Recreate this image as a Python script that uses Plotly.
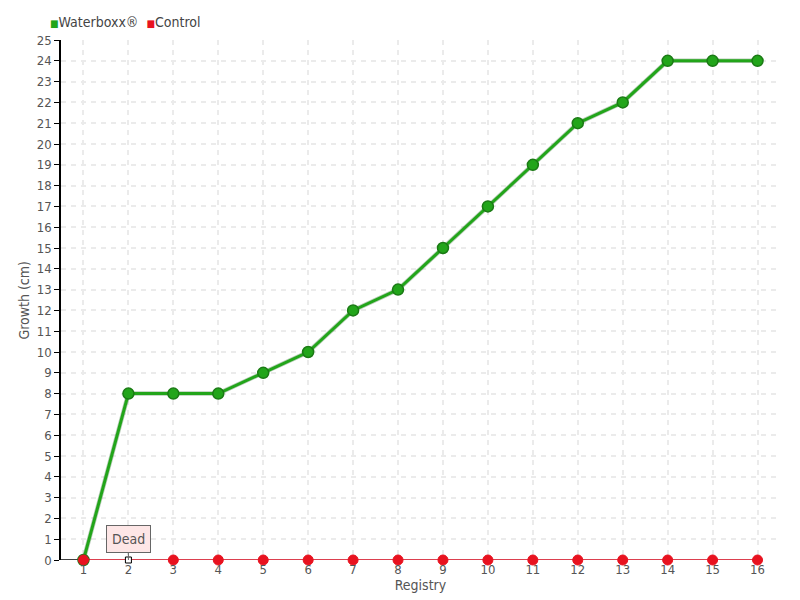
import plotly.graph_objects as go

registry = list(range(1, 17))
waterboxx = [0, 8, 8, 8, 9, 10, 12, 13, 15, 17, 19, 21, 22, 24, 24, 24]
control = [0] * 16
ytick_vals = list(range(0, 26))
x_range = [0.5, 16.5]

FONT = "DejaVu Sans Condensed, DejaVu Sans, sans-serif"
GREEN = "#22a51a"
RED = "#e8121f"

fig = go.Figure()
# subtle shadow for green line
fig.add_trace(go.Scatter(x=registry, y=waterboxx, mode="lines",
                         line=dict(color="rgba(20,90,20,0.3)", width=4.5),
                         showlegend=False, hoverinfo="skip", cliponaxis=False))
fig.add_trace(go.Scatter(x=registry, y=waterboxx, mode="lines+markers", name="Waterboxx®",
                         line=dict(color=GREEN, width=3), cliponaxis=False,
                         marker=dict(size=11, color=GREEN, line=dict(color="#1b7a15", width=1.5)),
                         showlegend=False))
ctrl_symbols = ["circle"] * 16
ctrl_symbols[1] = "square"
ctrl_colors = [RED] * 16
ctrl_colors[1] = "white"
ctrl_sizes = [10] * 16
ctrl_sizes[1] = 6
ctrl_line_colors = [RED] * 16
ctrl_line_colors[1] = "black"
fig.add_trace(go.Scatter(x=registry, y=control, mode="lines+markers", name="Control",
                         line=dict(color="#d00014", width=1.5), cliponaxis=False,
                         marker=dict(size=ctrl_sizes, color=ctrl_colors, symbol=ctrl_symbols,
                                     opacity=1, line=dict(color=ctrl_line_colors, width=1)),
                         showlegend=False))

# black x-axis segment left of the first point (the red Control line covers the rest)
fig.add_shape(type="line", xref="x", yref="y", x0=x_range[0], x1=registry[0], y0=0, y1=0,
              line=dict(color="black", width=1.5), layer="below")

fig.add_annotation(x=registry[1], y=control[1], text="Dead", showarrow=True,
                   arrowhead=0, arrowwidth=1, arrowcolor="#666", ax=0, ay=-21,
                   bgcolor="#fde6e6", bordercolor="#666", borderwidth=1, borderpad=5,
                   font=dict(family=FONT, size=14, color="#555"))

# compact legend (square marker + label)
legend_html = (f"<span style='color:{GREEN};font-size:10px'>■</span>Waterboxx®  "
               f"<span style='color:{RED};font-size:10px'>■</span>Control")
fig.add_annotation(xref="paper", yref="paper", x=-0.018, y=1.0, yshift=18,
                   xanchor="left", yanchor="middle", showarrow=False,
                   text=legend_html, font=dict(family=FONT, size=14, color="#444"))

# y-axis title
fig.add_annotation(xref="paper", yref="paper", x=-0.052, y=0.5, textangle=-90,
                   xanchor="center", yanchor="middle", showarrow=False,
                   text="Growth (cm)", font=dict(family=FONT, size=14, color="#555"))

fig.update_layout(
    width=800, height=600,
    margin=dict(l=61, r=20, t=40, b=40, autoexpand=False),
    paper_bgcolor="white", plot_bgcolor="white",
    font=dict(family=FONT, size=13, color="#555"),
    showlegend=False,
)
fig.update_xaxes(range=x_range, tickvals=registry, showgrid=True,
                 gridcolor="#ebebeb", griddash="5px,5px", gridwidth=1.5,
                 showline=False, ticks="", ticklen=0, automargin=False,
                 title=dict(text="Registry", standoff=0, font=dict(size=14, color="#555")),
                 zeroline=False)
fig.update_yaxes(range=[0, 25], tickvals=ytick_vals, showgrid=True,
                 gridcolor="#ebebeb", griddash="5px,5px", gridwidth=1.5,
                 showline=True, linecolor="black", linewidth=1.5,
                 ticks="outside", ticklen=5, tickcolor="black", automargin=False,
                 zeroline=False)

fig.write_html("out.html", config={"displayModeBar": False},
               post_script="document.body.style.margin='0';")
